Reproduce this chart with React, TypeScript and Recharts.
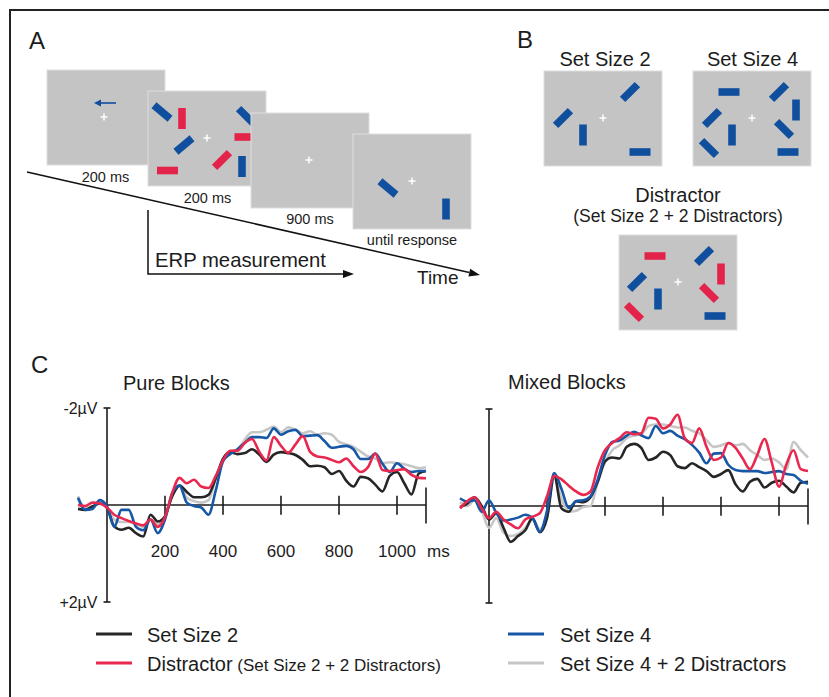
import React from "react";
import { LineChart, Line, XAxis, YAxis, ReferenceLine } from "recharts";

const FONT = '"Liberation Sans", Arial, Helvetica, sans-serif';
const INK = "#1c1c1c";
const SCREEN = "#c3c4c3";
const BLUE_BAR = "#0f4f9e";
const RED_BAR = "#e4234b";

// time points in ms
const times = [
  -100, -75, -50, -25, 0, 25, 50, 75, 100, 125, 150, 175, 200, 225, 250, 275, 300, 325, 350, 375,
  400, 425, 450, 475, 500, 525, 550, 575, 600, 625, 650, 675, 700, 725, 750, 775, 800, 825, 850, 875,
  900, 925, 950, 975, 1000, 1025, 1050, 1075, 1100,
];

// Pure blocks, µV (negative is up)
const pureSetSize2 = [
  0.08, 0.1, 0.03, -0.03, 0.06, 0.44, 0.51, 0.47, 0.58, 0.65, 0.2, 0.34, 0.23, -0.18, -0.4, -0.27, -0.16, -0.16, -0.21, -0.55,
  -0.95, -1.09, -1.05, -1.07, -1.15, -1.04, -0.89, -1.04, -1.09, -1.07, -1.03, -0.93, -0.8, -0.81, -0.78, -0.64, -0.7, -0.5, -0.38, -0.58,
  -0.55, -0.42, -0.28, -0.6, -0.68, -0.45, -0.22, -0.65, -0.7,
];
const pureSetSize4 = [
  -0.15, 0.1, 0.08, -0.1, 0.03, 0.45, 0.1, 0.1, 0.45, 0.52, 0.3, 0.58, 0.3, -0.25, -0.4, -0.05, 0.02, 0.05, 0.2, -0.3,
  -0.9, -1.05, -1.15, -1.28, -1.4, -1.4, -1.38, -1.58, -1.45, -1.52, -1.55, -1.42, -1.43, -1.44, -1.32, -1.18, -1.2, -1.22, -1.15, -0.95,
  -0.95, -1.06, -0.85, -0.68, -0.86, -0.75, -0.68, -0.7, -0.7,
];
const pureDistractor = [
  0.0, 0.02, -0.05, -0.03, 0.05, 0.2, 0.27, 0.33, 0.38, 0.42, 0.3, 0.45, 0.25, -0.25, -0.56, -0.45, -0.52, -0.38, -0.35, -0.6,
  -0.92, -1.12, -1.12, -1.28, -1.36, -1.1, -0.92, -1.4, -1.22, -1.08, -1.25, -1.42, -1.1, -1.0, -0.98, -0.93, -0.88, -0.96, -0.8, -0.68,
  -0.78, -1.06, -0.72, -0.7, -0.72, -0.74, -0.62, -0.56, -0.55,
];
const pureSetSize4Dist = [
  -0.18, 0.05, 0.02, -0.05, 0.05, 0.3, 0.35, 0.35, 0.4, 0.45, 0.3, 0.4, 0.25, -0.2, -0.4, -0.15, -0.08, -0.05, -0.1, -0.55,
  -0.95, -1.1, -1.15, -1.35, -1.5, -1.5, -1.55, -1.62, -1.5, -1.6, -1.55, -1.48, -1.52, -1.45, -1.48, -1.45, -1.3, -1.25, -1.2, -1.1,
  -1.0, -0.96, -0.86, -0.88, -0.86, -0.84, -0.8, -0.76, -0.78,
];

// Mixed blocks, µV
const mixedSetSize2 = [
  0.02, -0.05, -0.18, 0.0, 0.28, 0.15, 0.45, 0.74, 0.62, 0.5, 0.25, 0.54, 0.25, -0.62, 0.05, 0.12, -0.1, -0.08, -0.18, -0.5,
  -0.92, -1.0, -0.98, -1.22, -1.28, -1.2, -0.95, -1.0, -1.12, -1.05, -0.82, -0.78, -0.88, -0.8, -0.72, -0.6, -0.66, -0.74, -0.45, -0.3,
  -0.5, -0.56, -0.38, -0.48, -0.52, -0.4, -0.28, -0.48, -0.5,
];
const mixedSetSize4 = [
  -0.16, -0.09, -0.12, 0.12, -0.12, 0.14, 0.3, 0.28, 0.24, 0.18, 0.25, 0.53, 0.1, -0.68, -0.35, 0.04, -0.1, -0.12, -0.2, -0.55,
  -1.05, -1.32, -1.35, -1.45, -1.53, -1.46, -1.4, -1.65, -1.5, -1.55, -1.45, -1.38, -1.26, -1.1, -0.88, -1.08, -1.09, -0.85, -0.74, -0.72,
  -0.72, -0.72, -0.68, -0.7, -0.72, -0.66, -0.64, -0.52, -0.46,
];
const mixedDistractor = [
  0.05, -0.1, -0.18, 0.05, 0.25, 0.12, 0.28, 0.38, 0.46, 0.28, 0.22, 0.15, -0.2, -0.62, -0.55, -0.42, -0.3, -0.23, -0.3, -0.8,
  -1.15, -1.3, -1.4, -1.52, -1.48, -1.5, -1.82, -1.8, -1.6, -1.68, -1.88, -1.4, -1.3, -1.6, -1.22, -0.95, -1.0, -1.3, -1.2, -0.98,
  -0.76, -1.05, -1.38, -0.9, -0.4, -0.85, -1.15, -0.76, -0.72,
];
const mixedSetSize4Dist = [
  -0.08, 0.0, -0.12, 0.1, 0.45, 0.25, 0.55, 0.62, 0.58, 0.45, 0.28, 0.48, 0.2, -0.6, -0.15, 0.12, 0.1, 0.02, 0.0, -0.5,
  -0.9, -1.15, -1.25, -1.4, -1.45, -1.48, -1.65, -1.68, -1.68, -1.65, -1.62, -1.62, -1.55, -1.5, -1.36, -1.22, -1.25, -1.3, -1.25, -1.28,
  -1.15, -1.05, -0.95, -0.98, -0.9, -0.76, -1.32, -1.15, -1.0,
];

const xTicks = [200, 400, 600, 800, 1000];
const xTickLabels = ["200", "400", "600", "800", "1000"];
const yLabels = ["-2µV", "+2µV"];

// drawing order: gray at the bottom, red on top
const series = [
  { key: "ss4d", name: "Set Size 4 + 2 Distractors", color: "#c6c6c6" },
  { key: "ss2", name: "Set Size 2", color: "#262626" },
  { key: "ss4", name: "Set Size 4", color: "#1657a6" },
  { key: "dis", name: "Distractor", color: "#e8284e" },
];

function buildRows(ss2: number[], ss4: number[], dis: number[], ss4d: number[]) {
  return times.map((t, i) => ({ t, ss2: ss2[i], ss4: ss4[i], dis: dis[i], ss4d: ss4d[i] }));
}

const pureRows = buildRows(pureSetSize2, pureSetSize4, pureDistractor, pureSetSize4Dist);
const mixedRows = buildRows(mixedSetSize2, mixedSetSize4, mixedDistractor, mixedSetSize4Dist);

const getBox = (p: any) => p.viewBox || p;

const xTickLabel = (text: string) => (p: any) => {
  const vb = getBox(p);
  return (
    <text x={vb.x + (vb.width || 0) / 2} y={vb.y + vb.height + 42} textAnchor="middle" fontSize={17} fill={INK} fontFamily={FONT}>
      {text}
    </text>
  );
};

const msLabel = (p: any) => {
  const vb = getBox(p);
  return (
    <text x={vb.x + 1} y={vb.y + vb.height + 34} textAnchor="start" fontSize={17} fill={INK} fontFamily={FONT}>
      ms
    </text>
  );
};

const yTickLabel = (text: string) => (p: any) => {
  const vb = getBox(p);
  return (
    <text x={vb.x - 6} y={vb.y + 6} textAnchor="end" fontSize={16} fill={INK} fontFamily={FONT}>
      {text}
    </text>
  );
};

function ErpChart({ rows, left, top, labels }: { rows: any[]; left: number; top: number; labels: boolean }) {
  const axis = { stroke: INK, strokeWidth: 1.6, ifOverflow: "visible" as const };
  return (
    <div style={{ position: "absolute", left, top }}>
      <LineChart width={398} height={214} data={rows} margin={{ top: 10, right: 30, bottom: 10, left: 20 }}>
        <XAxis dataKey="t" type="number" domain={[-100, 1100]} hide />
        <YAxis type="number" domain={[-2, 2]} reversed hide />
        <ReferenceLine segment={[{ x: 0, y: -2 }, { x: 0, y: 2 }]} {...axis} />
        <ReferenceLine
          segment={[{ x: -12, y: -2 }, { x: 12, y: -2 }]}
          {...axis}
          label={labels ? yTickLabel(yLabels[0]) : undefined}
        />
        <ReferenceLine
          segment={[{ x: -12, y: 2 }, { x: 12, y: 2 }]}
          {...axis}
          label={labels ? yTickLabel(yLabels[1]) : undefined}
        />
        <ReferenceLine segment={[{ x: 0, y: 0 }, { x: 1100, y: 0 }]} {...axis} />
        {xTicks.map((t, i) => (
          <ReferenceLine
            key={t}
            segment={[{ x: t, y: -0.19 }, { x: t, y: 0.2 }]}
            {...axis}
            label={labels ? xTickLabel(xTickLabels[i]) : undefined}
          />
        ))}
        <ReferenceLine segment={[{ x: 1100, y: -0.36 }, { x: 1100, y: 0.38 }]} {...axis} label={labels ? msLabel : undefined} />
        {series.map((s) => (
          <Line
            key={s.key}
            type="monotone"
            dataKey={s.key}
            stroke={s.color}
            strokeWidth={2.6}
            dot={false}
            isAnimationActive={false}
          />
        ))}
      </LineChart>
    </div>
  );
}

function Stick({ x, y, a, c }: { x: number; y: number; a: number; c: string }) {
  return <rect x={x - 10.5} y={y - 3.8} width={21} height={7.6} fill={c} transform={`rotate(${a} ${x} ${y})`} />;
}

function Fix({ x, y }: { x: number; y: number }) {
  return (
    <g stroke="#fff" strokeWidth={1.5}>
      <line x1={x - 3.5} y1={y} x2={x + 3.5} y2={y} />
      <line x1={x} y1={y - 3.5} x2={x} y2={y + 3.5} />
    </g>
  );
}

function Screen({ x, y }: { x: number; y: number }) {
  return <rect x={x} y={y} width={118} height={95} fill={SCREEN} stroke="#dedede" strokeWidth={1} />;
}

type S = [number, number, number, string];
const ss2Sticks: S[] = [[86, 21, -45, BLUE_BAR], [19, 47, -45, BLUE_BAR], [39, 64, 90, BLUE_BAR], [96, 81, 0, BLUE_BAR]];
const ss4Sticks: S[] = [
  [36, 21, 0, BLUE_BAR], [86, 21, -45, BLUE_BAR], [103, 39, 90, BLUE_BAR], [19, 47, -45, BLUE_BAR],
  [39, 64, 90, BLUE_BAR], [91, 58, 45, BLUE_BAR], [16, 77, 45, BLUE_BAR], [95, 81, 0, BLUE_BAR],
];
const distSticks: S[] = [
  [36, 21, 0, RED_BAR], [85, 21, -45, BLUE_BAR], [102, 39, 90, RED_BAR], [18, 47, -45, BLUE_BAR],
  [39, 64, 90, BLUE_BAR], [90, 58, 45, RED_BAR], [15, 77, 45, RED_BAR], [96, 81, 0, BLUE_BAR],
];

function Display({ x, y, sticks }: { x: number; y: number; sticks: S[] }) {
  return (
    <g>
      <Screen x={x} y={y} />
      {sticks.map((s, i) => (
        <Stick key={i} x={x + s[0]} y={y + s[1]} a={s[2]} c={s[3]} />
      ))}
      <Fix x={x + 59} y={y + 47} />
    </g>
  );
}

function Overlay() {
  const txt = { fontFamily: FONT, fill: INK };
  // time arrow head
  const tip = [480, 275];
  const ux = 0.975, uy = 0.222;
  const bx = tip[0] - 11 * ux, by = tip[1] - 11 * uy;
  const head = `${tip[0]},${tip[1]} ${bx - 4 * uy},${by + 4 * ux} ${bx + 4 * uy},${by - 4 * ux}`;
  const legendLeft = series.filter((s) => s.key === "ss2" || s.key === "dis");
  const legendRight = series.filter((s) => s.key === "ss4" || s.key === "ss4d").reverse();
  return (
    <svg width={829} height={697} style={{ position: "absolute", left: 0, top: 0 }}>
      <path d="M10 700 V10 H832" stroke="#222" strokeWidth={2} fill="none" />
      <text x={29} y={49} fontSize={24} {...txt}>A</text>
      <text x={517} y={48} fontSize={24} {...txt}>B</text>
      <text x={31} y={373} fontSize={24} {...txt}>C</text>

      {/* panel A */}
      <line x1={27} y1={172} x2={bx} y2={by} stroke="#111" strokeWidth={1.5} />
      <polygon points={head} fill="#111" />
      <Screen x={47} y={70} />
      <line x1={100} y1={103} x2={116} y2={103} stroke={BLUE_BAR} strokeWidth={1.6} />
      <polygon points="94,103 101,99.5 101,106.5" fill={BLUE_BAR} />
      <Fix x={104} y={117} />
      <Screen x={148} y={91} />
      <Stick x={162} y={112} a={40} c={BLUE_BAR} />
      <Stick x={182} y={118.5} a={90} c={RED_BAR} />
      <Stick x={184} y={145} a={-40} c={BLUE_BAR} />
      <Stick x={167.5} y={170.5} a={0} c={RED_BAR} />
      <Stick x={246} y={116} a={45} c={BLUE_BAR} />
      <Stick x={245} y={137} a={0} c={RED_BAR} />
      <Stick x={222} y={160} a={-45} c={RED_BAR} />
      <Stick x={242} y={166.5} a={90} c={BLUE_BAR} />
      <Fix x={207} y={138} />
      <Screen x={251} y={113} />
      <Fix x={309} y={160} />
      <Screen x={353} y={134} />
      <Fix x={412} y={181} />
      <Stick x={388} y={188} a={40} c={BLUE_BAR} />
      <Stick x={446} y={209} a={90} c={BLUE_BAR} />
      <text x={105.5} y={182} fontSize={14.5} textAnchor="middle" {...txt}>200 ms</text>
      <text x={207.5} y={203} fontSize={14.5} textAnchor="middle" {...txt}>200 ms</text>
      <text x={310} y={224} fontSize={14.5} textAnchor="middle" {...txt}>900 ms</text>
      <text x={412} y={245} fontSize={14.5} textAnchor="middle" {...txt}>until response</text>
      <path d="M148 210 V274 H344" stroke="#111" strokeWidth={1.5} fill="none" />
      <polygon points="354,274 343,270 343,278" fill="#111" />
      <text x={155} y={267} fontSize={20.3} {...txt}>ERP measurement</text>
      <text x={417} y={284} fontSize={19} {...txt}>Time</text>

      {/* panel B */}
      <text x={605} y={66} fontSize={20} textAnchor="middle" {...txt}>Set Size 2</text>
      <text x={752.5} y={66} fontSize={20} textAnchor="middle" {...txt}>Set Size 4</text>
      <Display x={544} y={71} sticks={ss2Sticks} />
      <Display x={693} y={71} sticks={ss4Sticks} />
      <text x={678} y={202} fontSize={20} textAnchor="middle" {...txt}>Distractor</text>
      <text x={678} y={222} fontSize={17.5} textAnchor="middle" {...txt}>(Set Size 2 + 2 Distractors)</text>
      <Display x={619} y={235} sticks={distSticks} />

      {/* panel C titles */}
      <text x={123} y={390} fontSize={20} {...txt}>Pure Blocks</text>
      <text x={508} y={389} fontSize={20} {...txt}>Mixed Blocks</text>

      {/* legend */}
      {legendLeft.map((s, i) => (
        <g key={s.key}>
          <line x1={96} x2={132} y1={634 + i * 29} y2={634 + i * 29} stroke={s.color} strokeWidth={3} />
          <text x={147} y={642 + i * 29} fontSize={20} {...txt}>
            {s.name}
            {s.key === "dis" ? <tspan fontSize={17}> (Set Size 2 + 2 Distractors)</tspan> : null}
          </text>
        </g>
      ))}
      {legendRight.map((s, i) => (
        <g key={s.key}>
          <line x1={508} x2={544} y1={634 + i * 29} y2={634 + i * 29} stroke={s.color} strokeWidth={3} />
          <text x={560} y={642 + i * 29} fontSize={20} {...txt}>{s.name}</text>
        </g>
      ))}
    </svg>
  );
}

export default function App() {
  return (
    <div style={{ position: "absolute", left: 0, top: 0, width: 829, height: 697, background: "#fff", overflow: "hidden" }}>
      <Overlay />
      <ErpChart rows={pureRows} left={57.7} top={398} labels={true} />
      <ErpChart rows={mixedRows} left={440} top={399} labels={false} />
    </div>
  );
}
